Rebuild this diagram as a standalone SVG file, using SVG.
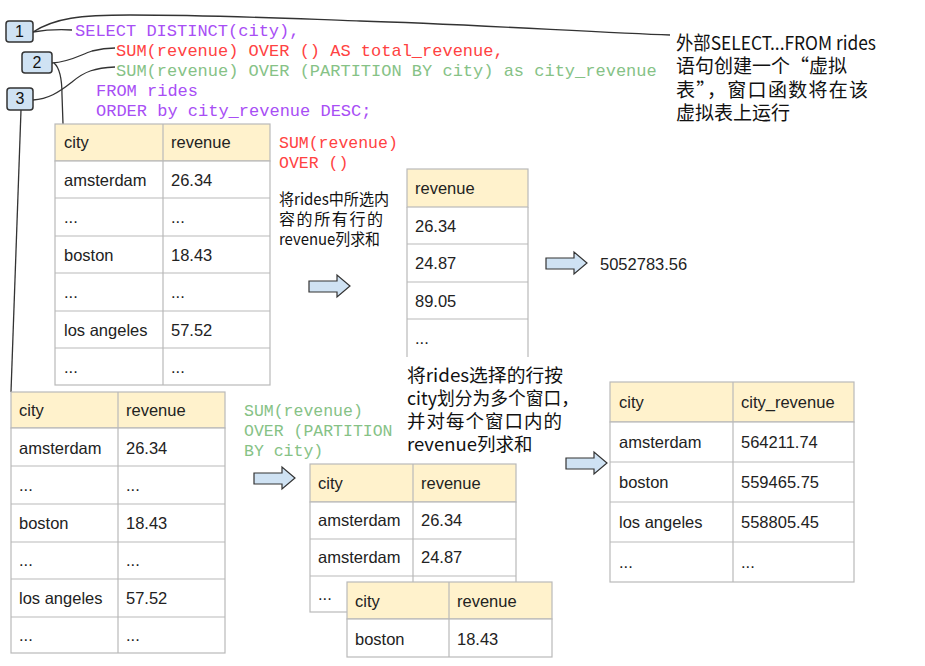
<svg xmlns="http://www.w3.org/2000/svg" width="925" height="666" viewBox="0 0 925 666">
<style>
.code{font-family:"Liberation Mono","Courier New",monospace;font-size:17px;}
.mono{font-family:"Liberation Mono","Courier New",monospace;font-size:16.5px;}
.pur{fill:#a84ef5;}
.red{fill:#ff4242;}
.grn{fill:#86c286;}
.cn{font-family:"Noto Sans CJK SC","Noto Sans",sans-serif;fill:#111;}
.cell{fill:#fff;stroke:#b9b9b9;stroke-width:1.2;}
.head{fill:#fff2cc;stroke:#b9b9b9;stroke-width:1.2;}
.gl{stroke:#b9b9b9;stroke-width:1.2;fill:none;}
.tt{font-family:"Liberation Sans",Arial,sans-serif;font-size:16.5px;fill:#222;}
.box{fill:#cfe2f3;stroke:#333;stroke-width:1.5;}
.bt{font-family:"Liberation Sans",Arial,sans-serif;font-size:16px;fill:#111;text-anchor:middle;}
.conn{fill:none;stroke:#333;stroke-width:1.3;}
.arr{fill:#cfe2f3;stroke:#333;stroke-width:1.2;}
</style>
<defs>
<path id="barrow" d="M0,6 L28,6 L28,0 L41,11 L28,22 L28,17 L0,17 Z"/>
</defs>
<rect width="925" height="666" fill="#fff"/>

<g id="connectors">
<path class="conn" d="M33,32 C45,30 55,29 72,30"/>
<path class="conn" d="M33,32 C55,18 80,15 130,15 C220,15 300,19 360,21 C470,24 600,33 670,35"/>
<path class="conn" d="M52,63 C70,62 80,55 92,51 C100,49 106,48 115,48"/>
<path class="conn" d="M54,63 C60,68 62,80 62,95 L63,124"/>
<path class="conn" d="M33,100 C48,99 58,93 72,82 C85,71 95,68 115,67"/>
<path class="conn" d="M21,110 L11,392"/>
</g>

<g id="callout1"><rect class="box" x="6" y="21" width="27" height="21" rx="3"/><text class="bt" x="19.5" y="37">1</text></g>
<g id="callout2"><rect class="box" x="22" y="52" width="30" height="21" rx="3"/><text class="bt" x="37" y="68">2</text></g>
<g id="callout3"><rect class="box" x="7" y="88" width="26" height="22" rx="3"/><text class="bt" x="20" y="104">3</text></g>

<g id="sql">
<text class="code pur" x="75" y="36" xml:space="preserve">SELECT DISTINCT(city),</text>
<text class="code red" x="116" y="56" xml:space="preserve">SUM(revenue) OVER () AS total_revenue,</text>
<text class="code grn" x="116" y="76" xml:space="preserve">SUM(revenue) OVER (PARTITION BY city) as city_revenue</text>
<text class="code pur" x="96" y="96" xml:space="preserve">FROM rides</text>
<text class="code pur" x="96" y="116" xml:space="preserve">ORDER by city_revenue DESC;</text>
</g>

<g id="note-outer">
<text class="cn" font-size="19" x="676" y="50" textLength="200" lengthAdjust="spacingAndGlyphs">外部SELECT...FROM rides</text>
<text class="cn" font-size="19" x="676" y="73">语句创建一个“虚拟</text>
<text class="cn" font-size="19" x="676" y="97" textLength="192" lengthAdjust="spacing">表”，窗口函数将在该</text>
<text class="cn" font-size="19" x="676" y="120">虚拟表上运行</text>
</g>

<g id="table-rides">
<rect class="head" x="55" y="124" width="215" height="37"/>
<rect class="cell" x="55" y="161" width="215" height="224"/>
<path class="gl" d="M163,124 V385 M55,198 H270 M55,236 H270 M55,273 H270 M55,311 H270 M55,348 H270"/>
<text class="tt" x="64" y="148">city</text><text class="tt" x="171" y="148">revenue</text>
<text class="tt" x="64" y="186">amsterdam</text><text class="tt" x="171" y="186">26.34</text>
<text class="tt" x="64" y="223">...</text><text class="tt" x="171" y="223">...</text>
<text class="tt" x="64" y="261">boston</text><text class="tt" x="171" y="261">18.43</text>
<text class="tt" x="64" y="298">...</text><text class="tt" x="171" y="298">...</text>
<text class="tt" x="64" y="336">los angeles</text><text class="tt" x="171" y="336">57.52</text>
<text class="tt" x="64" y="373">...</text><text class="tt" x="171" y="373">...</text>
</g>

<g id="label-total">
<text class="mono red" x="279" y="148">SUM(revenue)</text>
<text class="mono red" x="279" y="168" xml:space="preserve">OVER ()</text>
<text class="cn" font-size="16" x="279" y="205" textLength="110" lengthAdjust="spacingAndGlyphs">将rides中所选内</text>
<text class="cn" font-size="16" x="279" y="225" textLength="104" lengthAdjust="spacing">容的所有行的</text>
<text class="cn" font-size="16" x="279" y="245" textLength="101" lengthAdjust="spacingAndGlyphs">revenue列求和</text>
</g>

<g id="arrow1"><use href="#barrow" class="arr" x="309" y="275"/></g>

<g id="table-revenue">
<rect class="head" x="407" y="169" width="121" height="38"/>
<path class="gl" d="M407,207 V357 M528,207 V357 M407,244 H528 M407,282 H528 M407,319 H528"/>
<text class="tt" x="415" y="194">revenue</text>
<text class="tt" x="415" y="232">26.34</text>
<text class="tt" x="415" y="269">24.87</text>
<text class="tt" x="415" y="307">89.05</text>
<text class="tt" x="415" y="344">...</text>
</g>

<g id="arrow2"><use href="#barrow" class="arr" x="546" y="252"/></g>
<g id="total-result"><text class="tt" x="600" y="270">5052783.56</text></g>

<g id="table-rides-2">
<rect class="head" x="11" y="392" width="214" height="36"/>
<rect class="cell" x="11" y="428" width="214" height="225"/>
<path class="gl" d="M118,392 V653 M11,466 H225 M11,504 H225 M11,542 H225 M11,579 H225 M11,617 H225"/>
<text class="tt" x="19" y="416">city</text><text class="tt" x="126" y="416">revenue</text>
<text class="tt" x="19" y="454">amsterdam</text><text class="tt" x="126" y="454">26.34</text>
<text class="tt" x="19" y="491">...</text><text class="tt" x="126" y="491">...</text>
<text class="tt" x="19" y="529">boston</text><text class="tt" x="126" y="529">18.43</text>
<text class="tt" x="19" y="566">...</text><text class="tt" x="126" y="566">...</text>
<text class="tt" x="19" y="604">los angeles</text><text class="tt" x="126" y="604">57.52</text>
<text class="tt" x="19" y="641">...</text><text class="tt" x="126" y="641">...</text>
</g>

<g id="label-partition">
<text class="mono grn" x="244" y="416">SUM(revenue)</text>
<text class="mono grn" x="244" y="436" xml:space="preserve">OVER (PARTITION</text>
<text class="mono grn" x="244" y="456" xml:space="preserve">BY city)</text>
</g>

<g id="note-partition">
<text class="cn" font-size="18.5" x="407" y="382" textLength="156" lengthAdjust="spacingAndGlyphs">将rides选择的行按</text>
<text class="cn" font-size="18.5" x="407" y="405" textLength="172" lengthAdjust="spacingAndGlyphs">city划分为多个窗口，</text>
<text class="cn" font-size="18.5" x="407" y="428" textLength="155" lengthAdjust="spacing">并对每个窗口内的</text>
<text class="cn" font-size="18.5" x="407" y="451">revenue列求和</text>
</g>

<g id="arrow3"><use href="#barrow" class="arr" x="254" y="467"/></g>

<g id="table-amsterdam">
<rect class="head" x="310" y="464" width="206" height="38"/>
<rect class="cell" x="310" y="502" width="206" height="110"/>
<path class="gl" d="M413,464 V612 M310,539 H516 M310,576 H516"/>
<text class="tt" x="318" y="489">city</text><text class="tt" x="421" y="489">revenue</text>
<text class="tt" x="318" y="526">amsterdam</text><text class="tt" x="421" y="526">26.34</text>
<text class="tt" x="318" y="563">amsterdam</text><text class="tt" x="421" y="563">24.87</text>
<text class="tt" x="318" y="600">...</text>
</g>

<g id="table-boston">
<rect class="head" x="347" y="582" width="205" height="37"/>
<rect class="cell" x="347" y="619" width="205" height="38"/>
<path class="gl" d="M449,582 V657"/>
<text class="tt" x="355" y="607">city</text><text class="tt" x="457" y="607">revenue</text>
<text class="tt" x="355" y="645">boston</text><text class="tt" x="457" y="645">18.43</text>
</g>

<g id="arrow4"><use href="#barrow" class="arr" x="566" y="452"/></g>

<g id="table-city-revenue">
<rect class="head" x="610" y="382" width="244" height="40"/>
<rect class="cell" x="610" y="422" width="244" height="160"/>
<path class="gl" d="M733,382 V582 M610,462 H854 M610,502 H854 M610,542 H854"/>
<text class="tt" x="619" y="408">city</text><text class="tt" x="741" y="408">city_revenue</text>
<text class="tt" x="619" y="448">amsterdam</text><text class="tt" x="741" y="448">564211.74</text>
<text class="tt" x="619" y="488">boston</text><text class="tt" x="741" y="488">559465.75</text>
<text class="tt" x="619" y="528">los angeles</text><text class="tt" x="741" y="528">558805.45</text>
<text class="tt" x="619" y="568">...</text><text class="tt" x="741" y="568">...</text>
</g>
</svg>
